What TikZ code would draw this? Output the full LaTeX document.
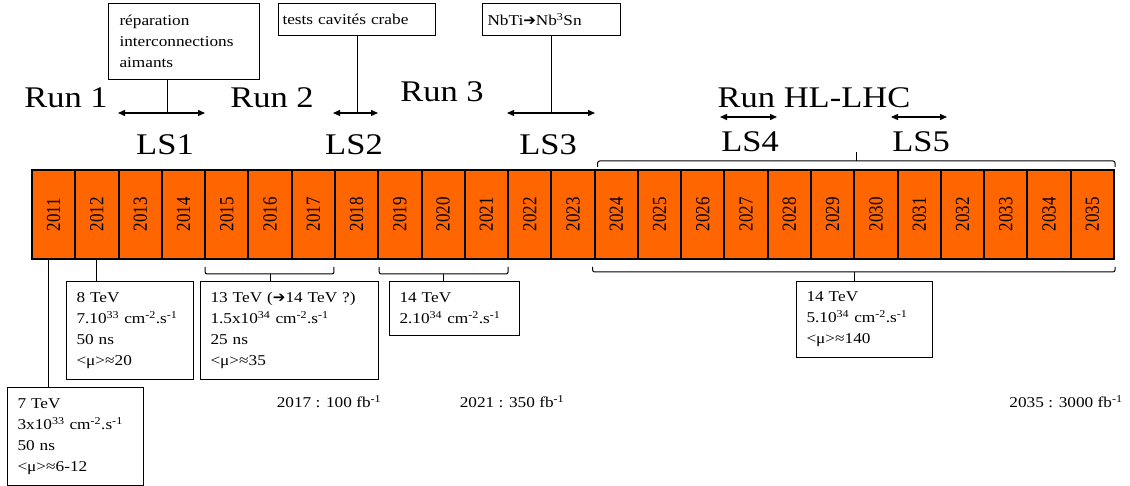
\documentclass[tikz,border=0pt]{standalone}
\usepackage{fontspec}
\setmainfont{Liberation Serif}[FakeStretch=1.15]
\newfontfamily\yearfont{Liberation Serif}[FakeStretch=0.85]
\newfontfamily\arrowfont{DejaVu Sans}
\usepackage{tikz}
\usetikzlibrary{arrows.meta, calc, positioning}
\definecolor{lhcorange}{HTML}{FF6600}
\newcommand{\up}[1]{\textsuperscript{#1}}
\newcommand{\barrow}{{\arrowfont ➔}}

\begin{document}
\begin{tikzpicture}[
  x=1pt, y=-1pt,
  cell/.style={draw=black, line width=2pt, fill=lhcorange, minimum width=43.28pt, minimum height=89pt, inner sep=0pt},
  yr/.style={rotate=90, inner sep=0pt, font=\yearfont\fontsize{20}{20}\selectfont},
  note/.style={draw=black, line width=1pt, anchor=north west, align=left, inner xsep=10pt, inner ysep=2pt, font=\fontsize{15}{21}\selectfont},
  big/.style={anchor=base, inner sep=0pt, font=\fontsize{30}{34}\selectfont},
  lumi/.style={inner sep=0pt, font=\fontsize{15}{18}\selectfont},
  dbl/.style={{Triangle[length=7pt,width=6pt]}-{Triangle[length=7pt,width=6pt]}, line width=1.3pt},
  brk/.style={line width=1pt, rounded corners=2pt},
  lnk/.style={line width=1pt},
]
\useasboundingbox (0,0) rectangle (1130,486);

%% Years
\foreach \yr [count=\i from 0] in {2011,...,2035} {
  \node[cell, label={[yr]center:\yr}] (c\yr) at ({53.64+43.28*\i}, 214.5) {};
}

%% Runs and long shutdowns
\node[big] (run1)  at (66,108)  {Run 1};
\node[big] (run2)  at (272,108) {Run 2};
\node[big] (run3)  at (442,102) {Run 3};
\node[big] (runhl) at (814,108) {Run HL-LHC};
\node[big] (ls1) at (165,155) {LS1};
\node[big] (ls2) at (354,155) {LS2};
\node[big] (ls3) at (548,155) {LS3};
\node[big] (ls4) at (750,152) {LS4};
\node[big] (ls5) at (921,152) {LS5};

\coordinate (ls1w) at (118,113); \coordinate (ls1e) at (205,113);
\coordinate (ls2w) at (333,113); \coordinate (ls2e) at (378,113);
\coordinate (ls3w) at (507,113); \coordinate (ls3e) at (595,113);
\coordinate (ls4w) at (720,117); \coordinate (ls4e) at (777,117);
\coordinate (ls5w) at (891,117); \coordinate (ls5e) at (947,117);
\draw[dbl] (ls1w) -- (ls1e);
\draw[dbl] (ls2w) -- (ls2e);
\draw[dbl] (ls3w) -- (ls3e);
\draw[dbl] (ls4w) -- (ls4e);
\draw[dbl] (ls5w) -- (ls5e);

%% Notes on the shutdowns
\node[note, text width=129pt, inner xsep=11pt, minimum height=76pt] (n1) at (108,3) {réparation\\interconnections\\aimants};
\node[note, text width=149pt, inner xsep=4pt, minimum height=32pt] (n2) at (278,3) {tests cavités crabe};
\node[note, text width=128pt, inner xsep=5pt, minimum height=32pt] (n3) at (482,3) {NbTi\barrow Nb\up{3}Sn};

\coordinate (t1) at (167,113);
\draw[lnk] (t1 |- n1.south) -- (t1);
\draw[lnk] (n2.south) -- (n2.south |- ls2w);
\draw[lnk] (n3.south) -- (n3.south |- ls3w);

%% HL-LHC bracket above
\draw[brk] ($(c2024.north west)+(4,-2)$) |- ($(c2035.north east)+(0,-8)$) -- ($(c2035.north east)+(0,-2)$);
\coordinate (mtop) at ($(c2024.north west)!0.5!(c2035.north east)+(2,-8)$);
\draw[lnk] (mtop) -- ++(0,-9);

%% Beam parameters
\node[note, text width=116pt, minimum height=98pt] (b7)  at (7,387)   {7 TeV\\3x10\up{33} cm\up{-2}.s\up{-1}\\50 ns\\<μ>≈6-12};
\node[note, text width=107pt, minimum height=98pt] (b8)  at (66,281)  {8 TeV\\7.10\up{33} cm\up{-2}.s\up{-1}\\50 ns\\<μ>≈20};
\node[note, text width=158pt, minimum height=98pt] (b13) at (200,281) {13 TeV (\barrow14 TeV ?)\\1.5x10\up{34} cm\up{-2}.s\up{-1}\\25 ns\\<μ>≈35};
\node[note, text width=110pt, minimum height=54pt] (b14) at (389,281) {14 TeV\\2.10\up{34} cm\up{-2}.s\up{-1}};
\node[note, text width=116pt, minimum height=76pt] (bhl) at (796,281) {14 TeV\\5.10\up{34} cm\up{-2}.s\up{-1}\\<μ>≈140};

\coordinate (t2011) at ($(c2011.south)+(-5,0)$);
\draw[lnk] (t2011) -- (t2011 |- b7.north);
\draw[lnk] (c2012.south) -- (c2012.south |- b8.north);

%% Brackets below
\draw[brk] ($(c2015.south west)+(1,7)$) |- ($(c2017.south east)+(-2,14)$) -- ($(c2017.south east)+(-2,7)$);
\coordinate (m2) at ($(c2015.south west)!0.5!(c2017.south east)+(0,14)$);
\draw[lnk] (m2) -- (m2 |- b13.north);

\draw[brk] ($(c2019.south west)+(2,7)$) |- ($(c2021.south east)+(-1,14)$) -- ($(c2021.south east)+(-1,7)$);
\coordinate (m3) at ($(c2019.south west)!0.5!(c2021.south east)+(0,14)$);
\draw[lnk] (m3) -- (m3 |- b14.north);

\draw[brk] ($(c2024.south west)+(-1,7)$) |- ($(c2035.south east)+(0,12)$) -- ($(c2035.south east)+(0,7)$);
\coordinate (mhl) at ($(c2024.south west)!0.5!(c2035.south east)+(0,12)$);
\draw[lnk] (mhl) -- (mhl |- bhl.north);

%% Integrated luminosity
\node[lumi] (l2017) at (329,402)  {2017 : 100 fb\up{-1}};
\node[lumi] (l2021) at (512,402)  {2021 : 350 fb\up{-1}};
\node[lumi] (l2035) at (1066,402) {2035 : 3000 fb\up{-1}};
\end{tikzpicture}
\end{document}
